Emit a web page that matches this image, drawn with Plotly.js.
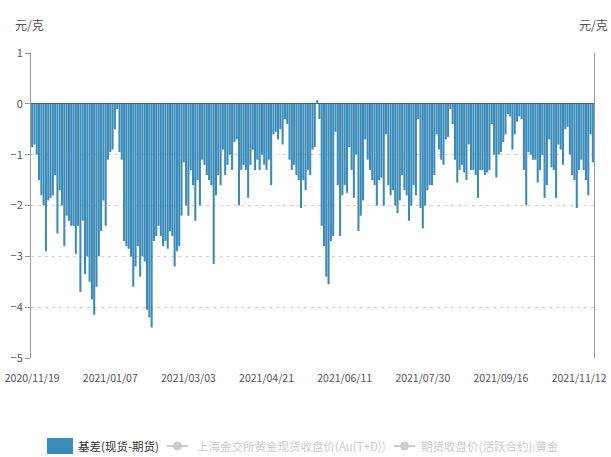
<!DOCTYPE html>
<html>
<head>
<meta charset="utf-8">
<script src="https://cdn.plot.ly/plotly-3.0.1.min.js"></script>
<style>html,body{margin:0;padding:0;background:#fff;}#chart{width:611px;height:457px;}</style>
</head>
<body>
<div id="chart"></div>
<script>
const dates = [
"2020/11/19","2020/11/20","2020/11/23","2020/11/24","2020/11/25","2020/11/26","2020/11/27","2020/11/30",
"2020/12/01","2020/12/02","2020/12/03","2020/12/04","2020/12/07","2020/12/08","2020/12/09","2020/12/10","2020/12/11","2020/12/14","2020/12/15","2020/12/16","2020/12/17","2020/12/18","2020/12/21","2020/12/22","2020/12/23","2020/12/24","2020/12/25","2020/12/28","2020/12/29","2020/12/30","2020/12/31",
"2021/01/04","2021/01/05","2021/01/06","2021/01/07","2021/01/08","2021/01/11","2021/01/12","2021/01/13","2021/01/14","2021/01/15","2021/01/18","2021/01/19","2021/01/20","2021/01/21","2021/01/22","2021/01/25","2021/01/26","2021/01/27","2021/01/28","2021/01/29",
"2021/02/01","2021/02/02","2021/02/03","2021/02/04","2021/02/05","2021/02/08","2021/02/09","2021/02/10","2021/02/18","2021/02/19","2021/02/22","2021/02/23","2021/02/24","2021/02/25","2021/02/26",
"2021/03/01","2021/03/02","2021/03/03","2021/03/04","2021/03/05","2021/03/08","2021/03/09","2021/03/10","2021/03/11","2021/03/12","2021/03/15","2021/03/16","2021/03/17","2021/03/18","2021/03/19","2021/03/22","2021/03/23","2021/03/24","2021/03/25","2021/03/26","2021/03/29","2021/03/30","2021/03/31",
"2021/04/01","2021/04/02","2021/04/06","2021/04/07","2021/04/08","2021/04/09","2021/04/12","2021/04/13","2021/04/14","2021/04/15","2021/04/16","2021/04/19","2021/04/20","2021/04/21","2021/04/22","2021/04/23","2021/04/26","2021/04/27","2021/04/28","2021/04/29","2021/04/30",
"2021/05/06","2021/05/07","2021/05/10","2021/05/11","2021/05/12","2021/05/13","2021/05/14","2021/05/17","2021/05/18","2021/05/19","2021/05/20","2021/05/21","2021/05/24","2021/05/25","2021/05/26","2021/05/27","2021/05/28","2021/05/31",
"2021/06/01","2021/06/02","2021/06/03","2021/06/04","2021/06/07","2021/06/08","2021/06/09","2021/06/10","2021/06/11","2021/06/15","2021/06/16","2021/06/17","2021/06/18","2021/06/21","2021/06/22","2021/06/23","2021/06/24","2021/06/25","2021/06/28","2021/06/29","2021/06/30",
"2021/07/01","2021/07/02","2021/07/05","2021/07/06","2021/07/07","2021/07/08","2021/07/09","2021/07/12","2021/07/13","2021/07/14","2021/07/15","2021/07/16","2021/07/19","2021/07/20","2021/07/21","2021/07/22","2021/07/23","2021/07/26","2021/07/27","2021/07/28","2021/07/29","2021/07/30",
"2021/08/02","2021/08/03","2021/08/04","2021/08/05","2021/08/06","2021/08/09","2021/08/10","2021/08/11","2021/08/12","2021/08/13","2021/08/16","2021/08/17","2021/08/18","2021/08/19","2021/08/20","2021/08/23","2021/08/24","2021/08/25","2021/08/26","2021/08/27","2021/08/30","2021/08/31",
"2021/09/01","2021/09/02","2021/09/03","2021/09/06","2021/09/07","2021/09/08","2021/09/09","2021/09/10","2021/09/13","2021/09/14","2021/09/15","2021/09/16","2021/09/17","2021/09/22","2021/09/23","2021/09/24","2021/09/27","2021/09/28","2021/09/29","2021/09/30",
"2021/10/08","2021/10/11","2021/10/12","2021/10/13","2021/10/14","2021/10/15","2021/10/18","2021/10/19","2021/10/20","2021/10/21","2021/10/22","2021/10/25","2021/10/26","2021/10/27","2021/10/28","2021/10/29",
"2021/11/01","2021/11/02","2021/11/03","2021/11/04","2021/11/05","2021/11/08","2021/11/09","2021/11/10","2021/11/11","2021/11/12","2021/11/15","2021/11/16","2021/11/17","2021/11/18","2021/11/19","2021/11/22"
];

const basis = [
-0.85,-0.8,-1.0,-1.5,-1.8,-2.0,-2.9,-1.9,-1.85,-1.8,
-1.4,-2.55,-1.7,-2.0,-2.8,-2.2,-2.3,-2.4,-2.4,-2.95,
-2.4,-3.7,-2.3,-3.35,-3.0,-3.5,-3.85,-4.15,-3.6,-3.0,
-2.5,-1.9,-2.4,-1.1,-0.95,-0.9,-0.5,-0.1,-0.95,-1.1,
-2.7,-2.8,-2.85,-3.0,-3.6,-3.2,-2.8,-3.4,-3.0,-3.1,
-4.05,-4.2,-4.4,-2.7,-2.6,-2.4,-2.6,-2.8,-2.7,-2.85,
-2.5,-2.6,-3.2,-2.9,-2.8,-2.2,-1.15,-2.0,-2.2,-1.3,
-1.6,-2.3,-1.5,-2.0,-1.1,-1.2,-1.4,-1.5,-1.6,-3.15,
-1.8,-1.4,-1.6,-0.9,-1.4,-1.2,-1.0,-1.3,-0.75,-0.7,
-2.0,-1.3,-1.2,-1.3,-1.85,-1.2,-0.9,-1.3,-1.1,-1.3,
-1.0,-1.2,-1.3,-1.1,-1.6,-0.6,-0.55,-0.7,-0.5,-0.8,
-0.3,-0.4,-1.1,-1.3,-1.2,-1.4,-1.5,-2.05,-1.5,-1.7,
-1.3,-1.4,-0.9,-0.85,0.07,-0.3,-2.4,-2.8,-3.4,-3.55,
-2.7,-2.6,-0.55,-1.6,-2.6,-1.8,-1.6,-1.75,-0.85,-1.3,
-1.85,-1.0,-2.5,-2.2,-1.9,-0.7,-1.1,-1.3,-1.5,-1.6,
-2.0,-1.5,-1.45,-2.0,-0.6,-1.6,-1.8,-1.7,-2.0,-2.15,
-1.9,-1.4,-1.7,-1.8,-2.3,-2.0,-1.6,-1.8,-0.3,-2.05,
-2.45,-2.0,-1.7,-1.6,-1.6,-1.4,-0.6,-0.9,-1.1,-1.2,
-0.7,-0.65,-0.1,-0.4,-1.1,-1.55,-1.3,-1.2,-1.35,-1.5,
-0.8,-1.3,-1.3,-1.4,-1.85,-1.3,-1.3,-1.4,-1.35,-1.3,
-0.4,-1.0,-1.45,-1.0,-0.95,-0.75,-0.6,-0.2,-0.25,-0.9,
-0.6,-0.35,-0.25,-0.3,-1.3,-2.0,-0.95,-1.0,-1.1,-1.1,
-1.55,-1.3,-1.0,-1.85,-1.6,-0.7,-1.25,-1.3,-1.85,-0.8,
-0.9,-1.2,-0.5,-0.45,-1.0,-1.4,-1.5,-2.05,-1.3,-1.1,
-1.3,-1.5,-1.8,-0.6,-1.15
];

const tickDates = ["2020/11/19","2021/01/07","2021/03/03","2021/04/21","2021/06/11","2021/07/30","2021/09/16","2021/11/12"];
const seriesNames = ["基差(现货-期货)","上海金交所黄金现货收盘价(Au(T+D))","期货收盘价(活跃合约):黄金"];
const unitLabel = "元/克";

const FONT = '"Noto Sans CJK SC", "Noto Sans", sans-serif';
const BLUE = '#3a8bb8';
const GREY = '#cccccc';

// pixel -> paper helpers (plot area: x 31..594, y 53..358)
const L = 31, R = 594, T = 53, B = 358;
const px = v => (v - L) / (R - L);
const py = v => (B - v) / (B - T);

const trace = {
  type: 'bar',
  x: dates,
  y: basis,
  name: seriesNames[0],
  marker: {color: BLUE, line: {width: 0}},
  showlegend: false,
  hoverinfo: 'x+y'
};

const legY = 446;
const shapes = [
  {type:'rect', xref:'paper', yref:'paper', x0:px(47), x1:px(73), y0:py(438), y1:py(454), fillcolor:BLUE, line:{width:0}},
  {type:'line', xref:'paper', yref:'paper', x0:px(167), x1:px(188), y0:py(legY), y1:py(legY), line:{color:GREY, width:2}},
  {type:'circle', xref:'paper', yref:'paper', x0:px(173.5), x1:px(181.5), y0:py(legY-4), y1:py(legY+4), fillcolor:GREY, line:{color:GREY, width:1}},
  {type:'line', xref:'paper', yref:'paper', x0:px(394), x1:px(415), y0:py(legY), y1:py(legY), line:{color:GREY, width:2}},
  {type:'circle', xref:'paper', yref:'paper', x0:px(400.5), x1:px(408.5), y0:py(legY-4), y1:py(legY+4), fillcolor:GREY, line:{color:GREY, width:1}}
];

const annotations = [
  {xref:'paper', yref:'paper', x:px(29), y:py(24), text:unitLabel, showarrow:false, xanchor:'center', yanchor:'middle', font:{family:FONT, size:12, color:'#555'}},
  {xref:'paper', yref:'paper', x:px(593), y:py(24), text:unitLabel, showarrow:false, xanchor:'center', yanchor:'middle', font:{family:FONT, size:12, color:'#555'}},
  {xref:'paper', yref:'paper', x:px(76), y:py(legY), text:seriesNames[0], showarrow:false, xanchor:'left', yanchor:'middle', font:{family:FONT, size:11.5, color:'#333'}},
  {xref:'paper', yref:'paper', x:px(195), y:py(legY), text:seriesNames[1], showarrow:false, xanchor:'left', yanchor:'middle', font:{family:FONT, size:11.5, color:GREY}},
  {xref:'paper', yref:'paper', x:px(419), y:py(legY), text:seriesNames[2], showarrow:false, xanchor:'left', yanchor:'middle', font:{family:FONT, size:11.5, color:GREY}}
];

const layout = {
  width: 611, height: 457,
  margin: {l: L, r: 611 - R, t: T, b: 457 - B, pad: 0},
  paper_bgcolor: '#fff', plot_bgcolor: '#fff',
  bargap: 0.1,
  showlegend: false,
  font: {family: FONT, size: 11, color: '#555'},
  xaxis: {
    type: 'category',
    categoryorder: 'trace',
    tickmode: 'array',
    tickvals: tickDates,
    ticktext: tickDates,
    tickangle: 0,
    showgrid: false,
    zeroline: false,
    showline: false,
    ticks: '',
    ticklabelstandoff: 12,
    tickfont: {family: FONT, size: 10.5, color: '#555'},
    fixedrange: true
  },
  yaxis: {
    range: [-5, 1],
    tickmode: 'linear',
    tick0: 0,
    dtick: 1,
    showgrid: true,
    gridcolor: '#d0d0d0',
    griddash: '3px,4px',
    gridwidth: 1,
    zeroline: true,
    zerolinecolor: '#33617f',
    zerolinewidth: 1,
    showline: true,
    linecolor: '#999',
    linewidth: 1,
    mirror: true,
    ticks: 'outside',
    ticklen: 5,
    tickcolor: '#999',
    tickfont: {family: FONT, size: 11, color: '#555'},
    fixedrange: true
  },
  shapes: shapes,
  annotations: annotations
};

Plotly.newPlot('chart', [trace], layout, {displayModeBar: false, staticPlot: true});
</script>
</body>
</html>
